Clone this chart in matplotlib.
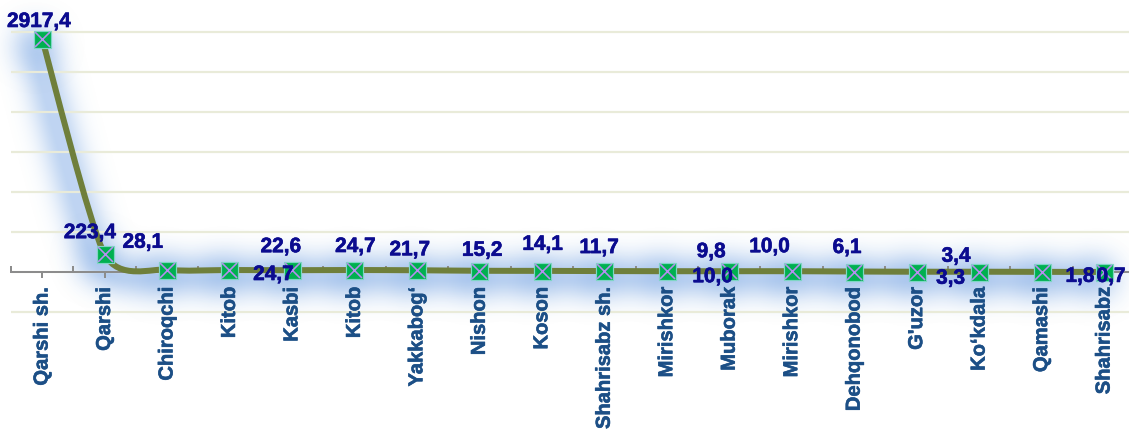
import numpy as np
import matplotlib
matplotlib.use("Agg")
import matplotlib.pyplot as plt
from matplotlib.path import Path
from matplotlib.patches import PathPatch
from matplotlib import patheffects as pe
from matplotlib import font_manager as fm

# --- data -------------------------------------------------------------
districts = ["Qarshi sh.", "Qarshi", "Chiroqchi", "Kitob", "Kasbi", "Kitob",
             "Yakkabog\u2018", "Nishon", "Koson", "Shahrisabz sh.", "Mirishkor",
             "Muborak", "Mirishkor", "Dehqonobod", "G'uzor", "Ko\u2018kdala",
             "Qamashi", "Shahrisabz"]
values = [2917.4, 223.4, 28.1, 24.7, 22.6, 24.7, 21.7, 15.2, 14.1, 11.7,
          10.0, 9.8, 10.0, 6.1, 3.3, 3.4, 1.8, 0.7]

# label placement relative to each marker, in pixels (right, down)
label_offsets_px = [(-3, -11.6), (-14.5, -16), (-24, -22), (44, 10), (-11, -18),
                    (1, -18), (-7, -15), (3, -15), (1, -21), (-5, -18),
                    (46, 11), (-18, -14), (-22, -19), (-7, -18.5), (34, 12),
                    (-23, -10), (38.5, 10), (7, 10)]

# --- style --------------------------------------------------------------
DPI = 100
LINE_COLOR = "#6f7f3b"
MARKER_FACE = "#00b050"
MARKER_EDGE = "#7fd6c4"
CROSS_COLOR = "#b68ef0"
VALUE_COLOR = "#0b0b8f"
TICK_COLOR = "#1c4f86"
GRID_COLOR = "#e9ebd9"
AXIS_COLOR = "#8c8c8c"
GLOW_RGB = (0.50, 0.67, 0.90)
TENSION = 0.7

plt.rcParams["font.family"] = ["Liberation Sans", "DejaVu Sans"]

bold_file = fm.findfont(fm.FontProperties(family="Liberation Sans", weight="bold"))
stroke_w = 0.6 if "Bold" in bold_file else 1.3


def px(v):
    """pixels -> points"""
    return v * 72.0 / DPI


def heavy(color):
    return [pe.withStroke(linewidth=px(stroke_w), foreground=color)]


def make_glow(sigma=14.0, alpha=1.0, dx=-7, dy=5, pad=80, cap=0.5):
    r = int(3 * sigma)
    t = np.arange(-r, r + 1)
    k = np.exp(-0.5 * (t / sigma) ** 2)
    k /= k.sum()

    def _filter(im, dpi):
        h, w, _ = im.shape
        a = np.zeros((h + 2 * pad, w + 2 * pad))
        a[pad:pad + h, pad:pad + w] = im[:, :, 3]
        a = np.apply_along_axis(lambda c: np.convolve(c, k, mode="same"), 0, a)
        a = np.apply_along_axis(lambda c: np.convolve(c, k, mode="same"), 1, a)
        a = np.roll(a, dx, axis=1)
        a = np.roll(a, dy, axis=0)
        out = np.zeros((h + 2 * pad, w + 2 * pad, 4))
        out[:, :, 0] = GLOW_RGB[0]
        out[:, :, 1] = GLOW_RGB[1]
        out[:, :, 2] = GLOW_RGB[2]
        out[:, :, 3] = np.clip(a * alpha, 0, cap)
        return out, -pad, -pad

    return _filter


fig = plt.figure(figsize=(1129 / DPI, 433 / DPI), dpi=DPI)
ax = fig.add_axes([10.8 / 1129, (433 - 330) / 433, 1124.5 / 1129, 330 / 433])
ax.set_xlim(-0.5, len(districts) - 0.5)
ax.set_ylim(-725, 3400)

# gridlines
ax.set_yticks(np.arange(-500, 3001, 500))
ax.yaxis.grid(True, color=GRID_COLOR, lw=px(2.2))
ax.set_axisbelow(True)
ax.xaxis.set_zorder(2)
ax.tick_params(axis="y", length=0, labelleft=False)

for s in ("left", "right", "top"):
    ax.spines[s].set_visible(False)
ax.spines["bottom"].set_position(("data", 0))
ax.spines["bottom"].set_color(AXIS_COLOR)
ax.spines["bottom"].set_linewidth(px(2))
ax.spines["bottom"].set_zorder(1.5)

xs = np.arange(len(values), dtype=float)
ys = np.array(values, dtype=float)

ax.set_xticks(xs)
ax.set_xticklabels(districts, rotation=90, fontsize=14.5, fontweight="bold",
                   color=TICK_COLOR)
for lab in ax.get_xticklabels():
    lab.set_path_effects(heavy(TICK_COLOR))
ax.set_xticks(np.arange(-0.5, len(values), 1.0), minor=True)
ax.tick_params(axis="x", which="major", direction="out", length=px(6),
               width=px(2), color=AXIS_COLOR, pad=px(9))
ax.tick_params(axis="x", which="minor", direction="in", length=px(6),
               width=px(2), color=AXIS_COLOR)

# smooth curve through the points (cardinal spline as cubic Beziers)
pts = np.column_stack([xs, ys])
ext = np.vstack([pts[0], pts, pts[-1]])
verts = [pts[0]]
codes = [Path.MOVETO]
for i in range(len(pts) - 1):
    p0, p1, p2, p3 = ext[i], ext[i + 1], ext[i + 2], ext[i + 3]
    verts += [p1 + TENSION * (p2 - p0) / 6.0,
              p2 - TENSION * (p3 - p1) / 6.0, p2]
    codes += [Path.CURVE4] * 3
curve = Path(np.array(verts), codes)

# soft blue glow behind the series
glow_line = PathPatch(curve, fill=False, ec="k", lw=px(20), zorder=0.4,
                      capstyle="round", joinstyle="round")
glow_line.set_agg_filter(make_glow())
ax.add_patch(glow_line)
glow_pts, = ax.plot(xs, ys, "s", ms=px(34), color="k", zorder=0.4)
glow_pts.set_agg_filter(make_glow(alpha=0.45, cap=0.35))

ax.add_patch(PathPatch(curve, fill=False, ec=LINE_COLOR, lw=px(6), zorder=3,
                       capstyle="round", joinstyle="round"))
ax.plot(xs, ys, "s", ms=px(17), mfc=MARKER_FACE, mec=MARKER_EDGE,
        mew=px(1.2), ls="none", zorder=4)
ax.plot(xs, ys, "x", ms=px(15), mec=CROSS_COLOR, mew=px(1.6), ls="none",
        zorder=5)

for x, y, (dx, dy) in zip(xs, ys, label_offsets_px):
    ax.annotate(f"{y:.1f}".replace(".", ","), (x, y),
                xytext=(px(dx), -px(dy)), textcoords="offset points",
                ha="center", va="baseline", fontsize=15, fontweight="bold",
                color=VALUE_COLOR, zorder=6, annotation_clip=False,
                path_effects=heavy(VALUE_COLOR))

fig.savefig("out.png", dpi=DPI)
